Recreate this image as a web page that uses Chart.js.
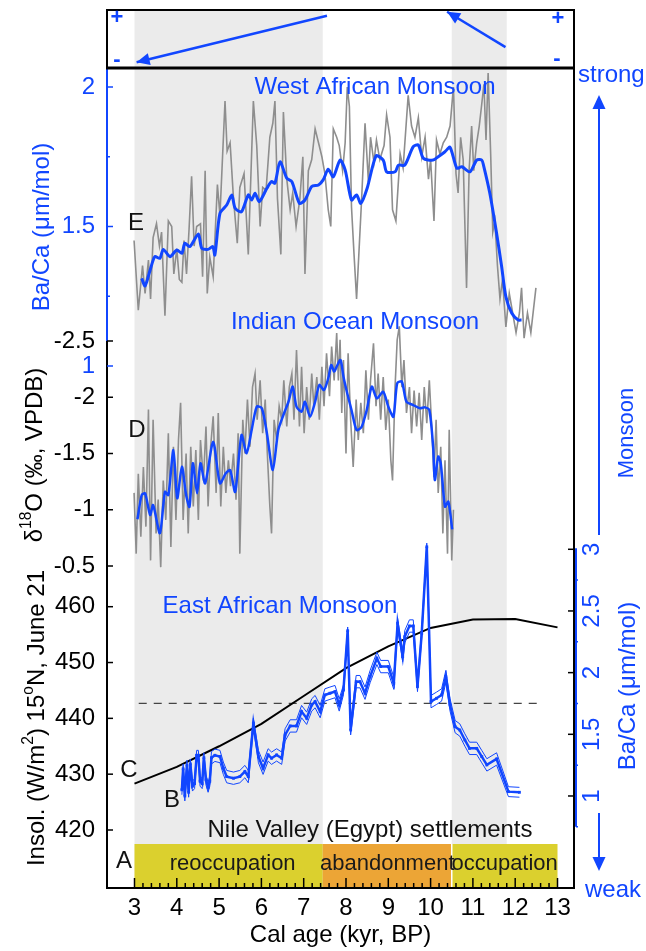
<!DOCTYPE html>
<html>
<head>
<meta charset="utf-8">
<script src="https://cdn.jsdelivr.net/npm/chart.js@4.4.1/dist/chart.umd.min.js"></script>
<style>
  html, body { margin: 0; padding: 0; background: #fff; }
  #chart { display: block; }
</style>
</head>
<body>
<canvas id="chart" width="646" height="951"></canvas>
<script>
// ---- data (age in kyr BP) ----
const xTicks = [3, 4, 5, 6, 7, 8, 9, 10, 11, 12, 13];
const greyStart = [3.0, 10.5];
const greyEnd = [7.45, 11.8];
const settleStart = [3.0, 7.45, 10.5];
const settleEnd = [7.45, 10.5, 13.0];
const settleLabels = ['reoccupation', 'abandonment', 'occupation'];

const wTicks = [2, 1.5, 1];
const wMinor = [1.75, 1.25];
const dTicks = [-2.5, -2, -1.5, -1, -0.5];
const insolTicks = [460, 450, 440, 430, 420];
const eTicks = [3, 2.5, 2, 1.5, 1];
const eMinor = [2.75, 2.25, 1.75, 1.25, 0.75];

// E: West African Monsoon Ba/Ca, raw and smoothed
const eRaw = [[2.99,1.45],[3.09,1.20],[3.19,1.36],[3.25,1.26],[3.33,1.38],[3.38,1.24],[3.44,1.46],[3.52,1.51],[3.59,1.43],[3.64,1.48],[3.72,1.18],[3.80,1.52],[3.88,1.50],[3.93,1.33],[4.00,1.42],[4.06,1.31],[4.12,1.30],[4.17,1.45],[4.23,1.33],[4.29,1.49],[4.35,1.68],[4.41,1.43],[4.47,1.50],[4.56,1.51],[4.61,1.32],[4.67,1.70],[4.72,1.26],[4.78,1.39],[4.86,1.32],[4.96,1.65],[5.02,1.54],[5.14,1.95],[5.19,1.77],[5.26,1.80],[5.34,1.60],[5.43,1.44],[5.49,1.64],[5.59,1.69],[5.69,1.40],[5.81,1.95],[5.89,1.79],[5.97,1.50],[6.03,1.64],[6.11,1.63],[6.20,1.82],[6.27,1.87],[6.32,1.95],[6.38,1.60],[6.46,1.40],[6.52,1.91],[6.60,1.67],[6.68,1.56],[6.74,1.62],[6.82,1.50],[6.91,1.60],[6.98,1.75],[7.03,1.33],[7.11,1.70],[7.19,1.74],[7.27,1.85],[7.35,1.80],[7.43,1.75],[7.50,1.69],[7.58,1.56],[7.64,1.50],[7.70,1.85],[7.78,1.82],[7.84,1.79],[7.92,1.70],[7.98,1.80],[8.03,2.00],[8.08,1.93],[8.13,1.57],[8.19,1.40],[8.25,1.24],[8.32,1.45],[8.37,1.60],[8.45,1.87],[8.53,1.66],[8.58,1.82],[8.66,1.73],[8.72,1.81],[8.80,1.74],[8.90,1.79],[8.96,1.90],[9.04,1.82],[9.10,1.56],[9.18,1.52],[9.28,1.76],[9.35,1.71],[9.47,1.97],[9.55,1.86],[9.63,1.82],[9.71,1.89],[9.79,1.75],[9.87,1.82],[9.95,1.67],[10.00,1.74],[10.08,1.52],[10.14,1.81],[10.22,1.76],[10.30,1.80],[10.38,1.82],[10.46,1.86],[10.54,2.00],[10.60,1.69],[10.65,1.62],[10.71,1.82],[10.77,1.74],[10.85,1.28],[10.91,1.70],[10.97,1.86],[11.02,1.70],[11.09,1.80],[11.15,1.86],[11.21,1.94],[11.26,2.01],[11.31,1.81],[11.36,2.05],[11.42,1.76],[11.47,1.48],[11.52,1.52],[11.58,1.36],[11.64,1.24],[11.70,1.31],[11.78,1.14],[11.86,1.26],[11.94,1.19],[12.02,1.12],[12.10,1.19],[12.15,1.28],[12.21,1.10],[12.29,1.19],[12.37,1.12],[12.49,1.28]];
const eSmooth = [[3.17,1.314],[3.25,1.287],[3.37,1.344],[3.48,1.392],[3.60,1.386],[3.68,1.418],[3.84,1.392],[4.00,1.416],[4.12,1.404],[4.19,1.44],[4.31,1.428],[4.51,1.473],[4.59,1.422],[4.74,1.418],[4.85,1.428],[4.90,1.398],[5.02,1.547],[5.18,1.577],[5.30,1.613],[5.38,1.565],[5.53,1.553],[5.69,1.613],[5.77,1.595],[5.85,1.619],[5.95,1.589],[6.13,1.637],[6.24,1.661],[6.32,1.655],[6.44,1.732],[6.60,1.673],[6.72,1.661],[6.90,1.583],[7.03,1.595],[7.19,1.643],[7.35,1.649],[7.46,1.667],[7.58,1.705],[7.70,1.678],[7.86,1.738],[7.98,1.703],[8.13,1.595],[8.25,1.613],[8.35,1.583],[8.50,1.637],[8.71,1.753],[8.88,1.738],[8.96,1.696],[9.16,1.696],[9.24,1.720],[9.39,1.720],[9.59,1.786],[9.71,1.792],[9.83,1.744],[10.06,1.738],[10.18,1.750],[10.34,1.768],[10.46,1.784],[10.62,1.709],[10.74,1.714],[10.93,1.696],[11.09,1.738],[11.21,1.738],[11.25,1.720],[11.40,1.619],[11.56,1.476],[11.68,1.356],[11.78,1.248],[11.92,1.189],[12.07,1.165],[12.15,1.165]];

// D: Indian Ocean Monsoon d18O, raw and smoothed
const dRaw = [[2.99,-1.15],[3.04,-0.61],[3.09,-1.32],[3.15,-0.76],[3.21,-1.38],[3.27,-0.85],[3.33,-1.89],[3.38,-0.55],[3.44,-1.80],[3.51,-0.79],[3.56,-1.09],[3.62,-0.49],[3.68,-1.26],[3.74,-0.91],[3.80,-1.68],[3.86,-0.67],[3.92,-1.56],[3.98,-0.91],[4.04,-1.62],[4.09,-1.95],[4.15,-0.91],[4.22,-1.50],[4.27,-0.79],[4.33,-1.56],[4.39,-1.03],[4.45,-1.53],[4.51,-0.91],[4.56,-1.62],[4.63,-1.26],[4.69,-1.74],[4.74,-1.03],[4.80,-1.56],[4.86,-1.83],[4.93,-1.15],[4.98,-1.86],[5.04,-1.03],[5.10,-1.56],[5.16,-1.15],[5.22,-1.44],[5.27,-1.21],[5.34,-1.50],[5.40,-1.09],[5.45,-1.68],[5.49,-0.61],[5.56,-1.80],[5.61,-1.50],[5.67,-1.98],[5.73,-1.56],[5.79,-2.09],[5.85,-2.21],[5.90,-1.80],[5.97,-2.15],[6.03,-1.68],[6.09,-1.98],[6.14,-1.50],[6.20,-1.03],[6.24,-0.79],[6.30,-1.80],[6.36,-1.62],[6.42,-1.92],[6.48,-1.80],[6.53,-2.15],[6.60,-1.74],[6.66,-2.09],[6.72,-2.21],[6.77,-1.80],[6.83,-2.42],[6.90,-1.74],[6.95,-2.27],[7.01,-1.68],[7.07,-2.09],[7.13,-1.80],[7.19,-2.21],[7.24,-1.92],[7.31,-2.18],[7.37,-1.80],[7.43,-2.27],[7.48,-1.92],[7.54,-2.39],[7.61,-2.01],[7.66,-2.45],[7.72,-2.15],[7.78,-2.57],[7.82,-2.15],[7.86,-2.51],[7.90,-1.86],[7.94,-2.33],[8.00,-1.50],[8.05,-2.39],[8.11,-1.80],[8.17,-1.38],[8.24,-1.98],[8.29,-1.62],[8.35,-1.95],[8.41,-1.68],[8.47,-2.24],[8.53,-1.80],[8.58,-2.15],[8.65,-2.48],[8.71,-1.92],[8.76,-2.21],[8.82,-1.80],[8.88,-2.18],[8.94,-1.71],[9.00,-1.98],[9.06,-1.44],[9.10,-1.26],[9.16,-2.09],[9.21,-2.51],[9.26,-2.63],[9.32,-2.09],[9.37,-2.33],[9.43,-1.86],[9.50,-2.09],[9.55,-1.68],[9.61,-2.06],[9.67,-1.74],[9.73,-2.04],[9.79,-1.62],[9.85,-2.09],[9.91,-1.77],[9.97,-2.15],[10.03,-1.71],[10.08,-1.29],[10.13,-1.80],[10.18,-1.15],[10.24,-1.56],[10.29,-0.79],[10.34,-1.44],[10.40,-0.61],[10.44,-1.71],[10.50,-0.55],[10.54,-1.00]];
const dSmooth = [[3.07,-0.915],[3.17,-1.131],[3.25,-1.146],[3.37,-0.953],[3.44,-1.042],[3.60,-0.791],[3.72,-1.160],[3.80,-1.131],[3.92,-1.531],[4.01,-1.102],[4.12,-1.383],[4.22,-1.131],[4.30,-1.027],[4.38,-1.413],[4.48,-1.146],[4.56,-1.413],[4.67,-1.235],[4.86,-1.605],[5.02,-1.235],[5.16,-1.324],[5.26,-1.353],[5.38,-1.160],[5.53,-1.664],[5.65,-1.502],[5.77,-1.709],[5.89,-1.916],[6.01,-1.902],[6.13,-1.680],[6.27,-1.353],[6.40,-1.709],[6.52,-1.842],[6.64,-1.960],[6.74,-2.094],[6.83,-1.916],[6.95,-1.872],[7.03,-1.960],[7.15,-1.827],[7.27,-1.960],[7.37,-2.109],[7.48,-2.064],[7.58,-2.168],[7.65,-2.287],[7.72,-2.228],[7.78,-2.272],[7.87,-2.331],[7.94,-2.183],[8.02,-2.049],[8.13,-1.887],[8.25,-1.709],[8.37,-1.738],[8.49,-1.887],[8.61,-2.094],[8.73,-1.990],[8.88,-2.049],[9.00,-1.916],[9.12,-1.827],[9.21,-2.124],[9.32,-2.139],[9.43,-1.960],[9.59,-1.931],[9.75,-1.902],[9.87,-1.910],[9.97,-1.887],[10.06,-1.560],[10.10,-1.264],[10.18,-1.472],[10.24,-1.413],[10.34,-1.027],[10.42,-1.072],[10.51,-0.826]];

// C: insolation 15N, June 21 (W/m2)
const insol = [[3,428.3],[4,431.3],[5,435.0],[6,439.0],[7,444.0],[8,449.0],[9,452.9],[10,456.2],[11,457.7],[12,457.8],[13,456.3]];

// B: East African Monsoon Ba/Ca [age, value, uncertainty]
const bData = [[4.12,1.05,0.04],[4.15,1.22,0.04],[4.19,1.00,0.04],[4.24,1.25,0.04],[4.28,1.03,0.04],[4.32,1.26,0.04],[4.37,1.08,0.04],[4.42,1.10,0.04],[4.47,1.33,0.04],[4.51,1.33,0.04],[4.55,1.12,0.04],[4.60,1.10,0.04],[4.64,1.31,0.04],[4.69,1.13,0.04],[4.74,1.07,0.04],[4.78,1.12,0.04],[4.82,1.31,0.05],[4.90,1.33,0.05],[5.02,1.32,0.05],[5.10,1.225,0.05],[5.18,1.157,0.05],[5.34,1.144,0.05],[5.49,1.157,0.05],[5.61,1.198,0.05],[5.69,1.157,0.05],[5.81,1.59,0.04],[5.93,1.319,0.05],[6.04,1.225,0.05],[6.16,1.333,0.05],[6.24,1.306,0.05],[6.36,1.333,0.05],[6.48,1.306,0.05],[6.56,1.495,0.05],[6.68,1.568,0.05],[6.83,1.568,0.05],[6.95,1.684,0.05],[7.07,1.63,0.05],[7.19,1.738,0.05],[7.27,1.765,0.05],[7.39,1.684,0.05],[7.50,1.819,0.05],[7.62,1.833,0.05],[7.74,1.846,0.05],[7.84,1.738,0.05],[7.94,1.86,0.04],[8.04,2.34,0.03],[8.11,1.535,0.04],[8.24,1.927,0.05],[8.33,1.927,0.05],[8.45,1.833,0.05],[8.57,1.968,0.05],[8.73,2.116,0.05],[8.82,2.049,0.05],[9.00,2.049,0.05],[9.13,1.914,0.05],[9.22,2.40,0.04],[9.34,2.13,0.04],[9.39,2.292,0.05],[9.50,2.378,0.05],[9.59,2.378,0.05],[9.69,1.886,0.04],[9.79,2.319,0.04],[9.91,3.02,0.03],[10.01,1.765,0.05],[10.14,1.792,0.05],[10.26,1.819,0.05],[10.36,1.968,0.05],[10.46,1.738,0.05],[10.58,1.562,0.05],[10.69,1.535,0.05],[10.81,1.454,0.05],[10.92,1.386,0.05],[11.09,1.386,0.05],[11.21,1.319,0.05],[11.33,1.252,0.05],[11.56,1.30,0.05],[11.84,1.035,0.04],[12.10,1.03,0.04]];

// threshold (Ba/Ca, right axis)
const dashAge = [3.1, 12.6];
const dashVal = [1.75, 1.75];

// top panel arrows (0 = "-", 1 = "+")
const arrow1 = [[7.55, 0.90], [3.05, 0.10]];
const arrow2 = [[11.77, 0.36], [10.39, 0.97]];

// ---- drawing ----
const FONT = '"Liberation Sans", Arial, Helvetica, sans-serif';
const BLUE = '#1146ff';
const GREY = '#8e8e8e';
Chart.defaults.font.family = FONT;

function xy(arr, k) {
    return arr.map(p => ({x: p[0], y: k ? k(p) : p[1]}));
}

function richText(ctx, parts, cx, cy, size, color) {
    ctx.save();
    ctx.translate(cx, cy);
    ctx.rotate(-Math.PI / 2);
    let total = 0;
    parts.forEach(p => {
        ctx.font = (p.sup ? size * 0.65 : size) + 'px ' + FONT;
        p.w = ctx.measureText(p.t).width;
        total += p.w;
    });
    let x = -total / 2;
    ctx.fillStyle = color;
    ctx.textAlign = 'left';
    ctx.textBaseline = 'middle';
    parts.forEach(p => {
        ctx.font = (p.sup ? size * 0.65 : size) + 'px ' + FONT;
        ctx.fillText(p.t, x, p.sup ? -size * 0.33 : 0);
        x += p.w;
    });
    ctx.restore();
}

function line(ctx, x0, y0, x1, y1) {
    ctx.beginPath();
    ctx.moveTo(x0, y0);
    ctx.lineTo(x1, y1);
    ctx.stroke();
}

const decor = {
    id: 'decor',
    beforeDatasetsDraw(chart) {
        const {ctx, chartArea: a, scales: s} = chart;
        ctx.save();
        ctx.fillStyle = '#ebebeb';
        greyStart.forEach((g, i) => {
            const x0 = s.x.getPixelForValue(g), x1 = s.x.getPixelForValue(greyEnd[i]);
            ctx.fillRect(x0, a.top, x1 - x0, a.bottom - a.top);
        });
        const barTop = a.bottom - 44;
        const colors = {reoccupation: '#dbd02e', abandonment: '#eca536', occupation: '#dbd02e'};
        settleStart.forEach((st, i) => {
            const x0 = s.x.getPixelForValue(st), x1 = s.x.getPixelForValue(settleEnd[i]);
            ctx.fillStyle = colors[settleLabels[i]];
            ctx.fillRect(x0, barTop, x1 - x0, a.bottom - barTop);
        });
        ctx.strokeStyle = '#fff';
        ctx.lineWidth = 1.5;
        const xd = s.x.getPixelForValue(settleStart[2]);
        line(ctx, xd, barTop, xd, a.bottom);
        ctx.restore();
    },
    afterDatasetsDraw(chart) {
        const {ctx, chartArea: a, scales: s} = chart;
        const L = a.left, R = a.right, B = a.bottom;
        const yMid = s.yT.getPixelForValue(0);
        ctx.save();

        // arrow heads on the top panel arrows
        chart.data.datasets.forEach((ds, i) => {
            if (!ds.arrowHead) return;
            const pts = chart.getDatasetMeta(i).data;
            const p0 = pts[pts.length - 2], p1 = pts[pts.length - 1];
            const ang = Math.atan2(p1.y - p0.y, p1.x - p0.x);
            const len = 13, hw = 6;
            const bx = p1.x - len * Math.cos(ang), by = p1.y - len * Math.sin(ang);
            ctx.fillStyle = BLUE;
            ctx.beginPath();
            ctx.moveTo(p1.x, p1.y);
            ctx.lineTo(bx + hw * Math.sin(ang), by - hw * Math.cos(ang));
            ctx.lineTo(bx - hw * Math.sin(ang), by + hw * Math.cos(ang));
            ctx.closePath();
            ctx.fill();
        });

        // settlement bar text
        ctx.fillStyle = '#1a1a1a';
        ctx.font = '22px ' + FONT;
        ctx.textAlign = 'center';
        ctx.textBaseline = 'middle';
        settleLabels.forEach((t, i) => {
            const cx = (s.x.getPixelForValue(settleStart[i]) + s.x.getPixelForValue(settleEnd[i])) / 2;
            ctx.fillText(t, cx + (i === 0 ? 4 : 0), B - 24);
        });

        // bottom ticks (inside)
        ctx.strokeStyle = '#000';
        ctx.lineWidth = 1.5;
        for (let i = 0; i <= 50; i++) {
            const x = s.x.getPixelForValue(3 + i * 0.2);
            line(ctx, x, B, x, B - (i % 5 === 0 ? 10 : 5));
        }

        // frames
        ctx.lineWidth = 2;
        ctx.strokeRect(L, a.top, R - L, yMid - a.top);
        line(ctx, R, yMid, R, B);
        line(ctx, L - 1, B, R + 1, B);
        const yJoin = s.yD.getPixelForValue(-2.5);
        line(ctx, L, yJoin, L, B);
        ctx.strokeStyle = BLUE;
        line(ctx, L, yMid, L, yJoin);
        ctx.strokeStyle = '#000';
        ctx.lineWidth = 3;
        line(ctx, L - 1, yMid, R + 1, yMid);

        // left axes
        ctx.lineWidth = 1.5;
        ctx.font = '24px ' + FONT;
        ctx.textAlign = 'right';
        ctx.textBaseline = 'middle';
        const leftAxis = (scale, vals, minor, color) => {
            ctx.strokeStyle = color;
            ctx.fillStyle = color;
            vals.forEach(v => {
                const y = scale.getPixelForValue(v);
                line(ctx, L, y, L + 6, y);
                ctx.fillText(String(v), L - 12, y);
            });
            minor.forEach(v => {
                const y = scale.getPixelForValue(v);
                line(ctx, L, y, L + 3, y);
            });
        };
        leftAxis(s.yW, wTicks, wMinor, BLUE);
        leftAxis(s.yD, dTicks, [], '#000');
        leftAxis(s.yI, insolTicks, [], '#000');

        // right axis (East African Ba/Ca)
        ctx.strokeStyle = BLUE;
        ctx.lineWidth = 2;
        line(ctx, R + 2, s.yE.getPixelForValue(3) - 1, R + 2, s.yE.getPixelForValue(0.75));
        ctx.lineWidth = 1.5;
        eMinor.forEach(v => {
            const y = s.yE.getPixelForValue(v);
            line(ctx, R + 2, y, R + 4, y);
        });
        ctx.strokeStyle = '#000';
        ctx.fillStyle = BLUE;
        ctx.textAlign = 'center';
        eTicks.forEach(v => {
            const y = s.yE.getPixelForValue(v);
            line(ctx, R - 6, y, R, y);
            ctx.save();
            ctx.translate(592, y);
            ctx.rotate(-Math.PI / 2);
            ctx.fillText(String(v), 0, 0);
            ctx.restore();
        });

        // axis titles
        richText(ctx, [{t: 'Ba/Ca (\u03bcm/mol)'}], 42, 227, 24, BLUE);
        richText(ctx, [{t: '\u03b4'}, {t: '18', sup: true}, {t: 'O (\u2030, VPDB)'}], 35, 455, 24, '#000');
        richText(ctx, [{t: 'Insol. (W/m'}, {t: '2', sup: true}, {t: ') 15'}, {t: 'o', sup: true}, {t: 'N, June 21'}], 37, 718, 24, '#000');
        richText(ctx, [{t: 'Ba/Ca (\u03bcm/mol)'}], 628, 686, 24, BLUE);
        richText(ctx, [{t: 'Monsoon'}], 627, 433, 22, BLUE);

        // strong / weak arrows on the right
        ctx.strokeStyle = BLUE;
        ctx.fillStyle = BLUE;
        ctx.lineWidth = 2;
        line(ctx, 599, 535, 599, 104);
        line(ctx, 599, 813, 599, 862);
        ctx.beginPath();
        ctx.moveTo(599, 95); ctx.lineTo(592.5, 109); ctx.lineTo(605.5, 109); ctx.closePath();
        ctx.fill();
        ctx.beginPath();
        ctx.moveTo(599, 871); ctx.lineTo(592.5, 857); ctx.lineTo(605.5, 857); ctx.closePath();
        ctx.fill();
        ctx.font = '24px ' + FONT;
        ctx.textAlign = 'left';
        ctx.fillText('strong', 578, 75);
        ctx.fillText('weak', 585, 890);

        // series titles
        ctx.textAlign = 'center';
        ctx.fillText('West African Monsoon', 375, 87);
        ctx.fillText('Indian Ocean Monsoon', 355, 322);
        ctx.fillText('East African Monsoon', 280, 606);

        // top panel signs
        ctx.font = 'bold 22px ' + FONT;
        ctx.fillText('+', 117, 18);
        ctx.fillText('-', 117, 60);
        ctx.fillText('+', 558, 19);
        ctx.fillText('-', 557, 59);

        // record letters and other black texts
        ctx.fillStyle = '#111';
        ctx.font = '24px ' + FONT;
        ctx.fillText('E', 136, 223);
        ctx.fillText('D', 137, 430);
        ctx.fillText('C', 129, 770);
        ctx.fillText('B', 172, 800);
        ctx.fillText('A', 124, 861);
        ctx.fillText('Nile Valley (Egypt) settlements', 370, 830);

        ctx.restore();
    }
};

const ctx = document.getElementById('chart').getContext('2d');
new Chart(ctx, {
    type: 'line',
    data: {
        datasets: [
            {data: xy(bData), yAxisID: 'yE', borderColor: BLUE, borderWidth: 2.5, pointStyle: 'rect', pointRadius: 2, pointBackgroundColor: BLUE, pointBorderWidth: 0, order: 1},
            {data: xy(bData, p => p[1] + p[2]), yAxisID: 'yE', borderColor: BLUE, borderWidth: 1, pointRadius: 0, order: 3},
            {data: xy(bData, p => p[1] - p[2]), yAxisID: 'yE', borderColor: BLUE, borderWidth: 1, pointRadius: 0, order: 3},
            {data: xy(eSmooth), yAxisID: 'yW', borderColor: BLUE, borderWidth: 3, pointRadius: 0, tension: 0.25, order: 2},
            {data: xy(dSmooth), yAxisID: 'yD', borderColor: BLUE, borderWidth: 2.5, pointRadius: 0, tension: 0.25, order: 2},
            {data: xy(eRaw), yAxisID: 'yW', borderColor: GREY, borderWidth: 1.6, pointRadius: 0, order: 6},
            {data: xy(dRaw), yAxisID: 'yD', borderColor: GREY, borderWidth: 1.6, pointRadius: 0, order: 6},
            {data: xy(insol), yAxisID: 'yI', borderColor: '#000', borderWidth: 2, pointRadius: 0, order: 4},
            {data: dashAge.map((a, i) => ({x: a, y: dashVal[i]})), yAxisID: 'yE', borderColor: '#444', borderWidth: 1.2, borderDash: [8, 7], pointRadius: 0, order: 5},
            {data: xy(arrow1), yAxisID: 'yT', borderColor: BLUE, borderWidth: 2.5, pointRadius: 0, arrowHead: true, order: 1},
            {data: xy(arrow2), yAxisID: 'yT', borderColor: BLUE, borderWidth: 2.5, pointRadius: 0, arrowHead: true, order: 1}
        ]
    },
    options: {
        responsive: false,
        animation: false,
        events: [],
        layout: {padding: {left: 107, right: 72, top: 10, bottom: 0}},
        plugins: {legend: {display: false}, tooltip: {enabled: false}},
        scales: {
            x: {
                type: 'linear', min: 2.35, max: 13.39,
                afterBuildTicks: sc => { sc.ticks = xTicks.map(v => ({value: v})); },
                afterFit: sc => { sc.height = 63; },
                grid: {display: false, drawTicks: false},
                border: {display: false},
                ticks: {font: {size: 24}, color: '#000', padding: 6, maxRotation: 0, autoSkip: false, callback: v => String(v)},
                title: {display: true, text: 'Cal age (kyr, BP)', font: {size: 24}, color: '#000', padding: {top: 0, bottom: 1}}
            },
            yW: {type: 'linear', display: false, min: -0.871, max: 2.276},
            yD: {type: 'linear', display: false, reverse: true, min: -5.442, max: 2.362},
            yI: {type: 'linear', display: false, min: 409.61, max: 566.89},
            yE: {type: 'linear', display: false, min: 0.254, max: 7.372},
            yT: {type: 'linear', display: false, min: -14.138, max: 1}
        }
    },
    plugins: [decor]
});
</script>
</body>
</html>
